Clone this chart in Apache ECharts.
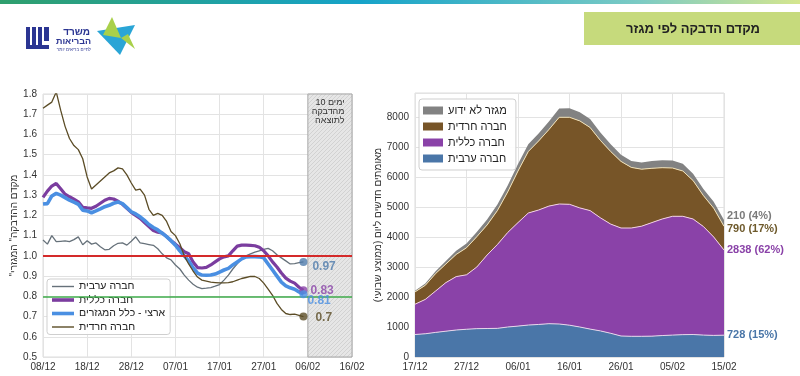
<!DOCTYPE html>
<html>
<head>
<meta charset="utf-8">
<script src="https://cdn.jsdelivr.net/npm/echarts@6/dist/echarts.min.js"></script>
<style>
  html, body { margin: 0; padding: 0; background: #fff; }
  #chart { width: 800px; height: 376px; }
</style>
</head>
<body>
<div id="chart"></div>
<script>
// ---- left chart: R by sector, one value per day from 08/12 ----
var leftTicks = ['08/12', '18/12', '28/12', '07/01', '17/01', '27/01', '06/02', '16/02']
var rArab = [1.078, 1.058, 1.10, 1.07, 1.072, 1.074, 1.07, 1.08, 1.094, 1.055,
  1.075, 1.058, 1.064, 1.045, 1.03, 1.032, 1.05, 1.062, 1.064, 1.053,
  1.072, 1.094, 1.064, 1.06, 1.056, 1.052, 1.035, 1.01, 0.99, 0.98,
  0.955, 0.935, 0.905, 0.88, 0.86, 0.845, 0.838, 0.84, 0.843, 0.85,
  0.858, 0.88, 0.905, 0.935, 0.96, 0.985, 1.0, 1.01, 1.018, 1.025,
  1.032, 1.037, 1.025, 1.005, 0.99, 0.975, 0.96, 0.962, 0.966, 0.97]
var rGeneral = [1.289, 1.32, 1.345, 1.358, 1.332, 1.305, 1.292, 1.28, 1.267, 1.24,
  1.237, 1.235, 1.245, 1.26, 1.275, 1.284, 1.281, 1.27, 1.255, 1.235,
  1.215, 1.20, 1.185, 1.165, 1.145, 1.125, 1.117, 1.113, 1.095, 1.075,
  1.058, 1.04, 1.02, 1.01, 0.97, 0.942, 0.94, 0.943, 0.955, 0.97,
  0.985, 0.995, 1.0, 1.025, 1.048, 1.053, 1.053, 1.052, 1.05, 1.042,
  1.025, 1.0, 0.97, 0.945, 0.915, 0.89, 0.875, 0.865, 0.845, 0.83]
var rNational = [1.256, 1.258, 1.296, 1.309, 1.30, 1.288, 1.275, 1.265, 1.255, 1.226,
  1.222, 1.213, 1.222, 1.232, 1.243, 1.25, 1.26, 1.266, 1.258, 1.238,
  1.218, 1.207, 1.193, 1.175, 1.155, 1.14, 1.128, 1.112, 1.095, 1.075,
  1.053, 1.025, 1.0, 0.975, 0.94, 0.915, 0.905, 0.904, 0.905, 0.91,
  0.92, 0.93, 0.938, 0.955, 0.97, 0.985, 0.995, 0.996, 0.996, 0.995,
  0.99, 0.96, 0.93, 0.9, 0.87, 0.852, 0.842, 0.835, 0.822, 0.81]
var rHaredi = [1.73, 1.745, 1.76, 1.81, 1.72, 1.64, 1.58, 1.545, 1.525, 1.48,
  1.39, 1.33, 1.35, 1.37, 1.39, 1.41, 1.42, 1.435, 1.43, 1.40,
  1.36, 1.325, 1.33, 1.30, 1.23, 1.20, 1.21, 1.20, 1.17, 1.12,
  1.10, 1.06, 1.0, 0.96, 0.925, 0.895, 0.88, 0.875, 0.87, 0.868,
  0.866, 0.866, 0.868, 0.872, 0.88, 0.888, 0.893, 0.898, 0.898, 0.888,
  0.865, 0.835, 0.805, 0.765, 0.735, 0.715, 0.71, 0.712, 0.706, 0.70]
var leftEndLabels = ['0.97', '0.83', '0.81', '0.7']

// ---- right chart: new cases per day (weekly avg), every 2 days from 17/12 ----
var rightDates = ['17/12', '19/12', '21/12', '23/12', '25/12', '27/12', '29/12', '31/12',
  '02/01', '04/01', '06/01', '08/01', '10/01', '12/01', '14/01', '16/01', '18/01',
  '20/01', '22/01', '24/01', '26/01', '28/01', '30/01', '01/02', '03/02', '05/02',
  '07/02', '09/02', '11/02', '13/02', '15/02']
var casesArab = [750, 775, 820, 860, 900, 925, 945, 950, 955, 1000, 1030, 1065, 1085, 1110,
  1100, 1060, 1000, 930, 870, 790, 700, 690, 690, 695, 715, 730, 745, 750, 730, 720, 728]
var casesGeneral = [1010, 1145, 1380, 1620, 1780, 1815, 2055, 2450, 2795, 3150, 3450, 3735,
  3815, 3920, 4000, 4030, 3970, 3950, 3770, 3640, 3600, 3610, 3670, 3785, 3885, 3960,
  3945, 3850, 3620, 3280, 2838]
var casesHaredi = [410, 470, 580, 620, 740, 900, 1010, 1000, 1130, 1350, 1720, 2050, 2300,
  2550, 2890, 2900, 2900, 2770, 2580, 2420, 2220, 2020, 1900, 1810, 1710, 1610, 1510,
  1280, 1030, 960, 790]
var casesUnknown = [40, 60, 80, 100, 120, 140, 160, 180, 200, 220, 230, 240, 250, 270, 290,
  300, 290, 280, 260, 240, 220, 210, 220, 240, 250, 250, 240, 230, 220, 215, 210]
var rightEndLabels = ['728 (15%)', '2838 (62%)', '790 (17%)', '210 (4%)']

var FONT = '"Liberation Sans", Arial, sans-serif'

// hatched fill for the "10 days" zone
var hatch = document.createElement('canvas')
hatch.width = 4
hatch.height = 4
var hc = hatch.getContext('2d')
hc.fillStyle = '#e6e6e6'
hc.fillRect(0, 0, 4, 4)
hc.strokeStyle = '#d2d2d2'
hc.lineWidth = 1
hc.beginPath()
hc.moveTo(0, 4)
hc.lineTo(4, 0)
hc.stroke()

function byDay(arr) {
  return arr.map(function (v, i) { return [i, v] })
}

function endDot(arr, color, text, offset) {
  return {
    type: 'scatter', xAxisIndex: 0, yAxisIndex: 0,
    symbolSize: 8, itemStyle: { color: color }, z: 5, silent: true,
    data: [[arr.length - 1, arr[arr.length - 1]]],
    label: {
      show: true, position: 'right', formatter: text, offset: offset,
      color: color, fontSize: 12, fontWeight: 'bold', fontFamily: FONT
    }
  }
}

var thinIcon = 'path://M0,0H22V1.4H0Z'
var thickIcon = 'path://M0,0H22V3.6H0Z'

var chart = echarts.init(document.getElementById('chart'))

var axisLabelStyle = { color: '#333', fontSize: 10, fontFamily: FONT }
var gridLine = { lineStyle: { color: '#e3e3e3', width: 1 } }

var option = {
  backgroundColor: '#fff',
  animation: false,
  textStyle: { fontFamily: FONT },
  graphic: [
    // top colour strip
    {
      type: 'rect', shape: { x: 0, y: 0, width: 800, height: 4 },
      style: {
        fill: new echarts.graphic.LinearGradient(0, 0, 1, 0, [
          { offset: 0, color: '#2f9f6d' },
          { offset: 0.45, color: '#16a3c9' },
          { offset: 0.8, color: '#7ccbc4' },
          { offset: 1, color: '#d5e68e' }
        ])
      }
    },
    // title box
    { type: 'rect', shape: { x: 584, y: 12, width: 216, height: 33 }, style: { fill: '#c6da7c' } },
    {
      type: 'text', x: 693, y: 29,
      style: {
        text: 'מקדם הדבקה לפי מגזר', fill: '#222', font: 'bold 13px ' + FONT,
        align: 'center', verticalAlign: 'middle'
      }
    },
    // logo
    { type: 'rect', shape: { x: 26, y: 27, width: 4, height: 22 }, style: { fill: '#2b3592' } },
    { type: 'rect', shape: { x: 32, y: 27, width: 4, height: 22 }, style: { fill: '#2b3592' } },
    { type: 'rect', shape: { x: 38, y: 27, width: 4, height: 22 }, style: { fill: '#2b3592' } },
    { type: 'rect', shape: { x: 44, y: 27, width: 5, height: 14 }, style: { fill: '#2b3592' } },
    { type: 'rect', shape: { x: 26, y: 45, width: 23, height: 4 }, style: { fill: '#2b3592' } },
    {
      type: 'text', x: 90, y: 32,
      style: { text: 'משרד', fill: '#2b3592', font: 'bold 10px ' + FONT, align: 'right', verticalAlign: 'middle' }
    },
    {
      type: 'text', x: 91, y: 42,
      style: { text: 'הבריאות', fill: '#2b3592', font: 'bold 9px ' + FONT, align: 'right', verticalAlign: 'middle' }
    },
    {
      type: 'text', x: 91, y: 50,
      style: { text: 'לחיים בריאים יותר', fill: '#2b3592', font: '4.5px ' + FONT, align: 'right', verticalAlign: 'middle' }
    },
    { type: 'polygon', shape: { points: [[97, 31], [135, 25], [120, 55]] }, style: { fill: '#2aa5d6' } },
    { type: 'polygon', shape: { points: [[112, 17], [121, 38], [103, 35]] }, style: { fill: '#a9d04a' } },
    { type: 'polygon', shape: { points: [[121, 38], [135, 49], [128, 34]] }, style: { fill: '#a9d04a' } }
  ],
  legend: [
    {
      left: 47, top: 279, orient: 'vertical', itemGap: 2.5, itemWidth: 22, itemHeight: 14,
      padding: [2, 5, 2, 5], backgroundColor: 'rgba(255,255,255,0.92)',
      borderColor: '#cfcfcf', borderWidth: 1, borderRadius: 3,
      textStyle: { color: '#222', fontSize: 10.5, fontFamily: FONT },
      data: [
        { name: 'חברה ערבית', icon: thinIcon },
        { name: 'חברה כללית', icon: thickIcon },
        { name: 'ארצי - כלל המגזרים', icon: thickIcon },
        { name: 'חברה חרדית', icon: thinIcon }
      ],
      selectedMode: false
    },
    {
      left: 419, top: 99, orient: 'vertical', itemGap: 5, itemWidth: 20, itemHeight: 8, icon: 'rect',
      padding: [6, 6, 6, 4], backgroundColor: 'rgba(255,255,255,0.92)',
      borderColor: '#cfcfcf', borderWidth: 1, borderRadius: 3,
      textStyle: { color: '#222', fontSize: 11, fontFamily: FONT },
      data: ['מגזר לא ידוע ', 'חברה חרדית ', 'חברה כללית ', 'חברה ערבית '],
      selectedMode: false
    }
  ],
  grid: [
    { left: 43, right: 448, top: 94, bottom: 19, show: true, borderColor: '#dcdcdc', borderWidth: 1, backgroundColor: 'transparent' },
    { left: 415, right: 76, top: 93, bottom: 19, show: true, borderColor: '#dcdcdc', borderWidth: 1, backgroundColor: 'transparent' }
  ],
  xAxis: [
    {
      type: 'value', gridIndex: 0, min: 0, max: 70, interval: 10,
      axisLine: { show: false }, axisTick: { show: false },
      axisLabel: Object.assign({}, axisLabelStyle, {
        margin: 5,
        formatter: function (v) { return leftTicks[Math.round(v / 10)] }
      }),
      splitLine: gridLine
    },
    {
      type: 'category', gridIndex: 1, data: rightDates, boundaryGap: false,
      axisLine: { show: false }, axisTick: { show: false },
      axisLabel: Object.assign({}, axisLabelStyle, { interval: 4, margin: 5 }),
      splitLine: { show: true, interval: 4, lineStyle: { color: '#e3e3e3' } }
    }
  ],
  yAxis: [
    {
      type: 'value', gridIndex: 0, min: 0.5, max: 1.8, interval: 0.1,
      axisLine: { show: false }, axisTick: { show: false },
      axisLabel: Object.assign({}, axisLabelStyle, {
        margin: 6,
        formatter: function (v) { return v.toFixed(1) }
      }),
      splitLine: gridLine,
      name: '"מקדם ההדבקה" המגזרי', nameLocation: 'middle', nameGap: 21,
      nameTextStyle: { color: '#333', fontSize: 10, fontFamily: FONT }
    },
    {
      type: 'value', gridIndex: 1, min: 0, max: 8800, interval: 1000,
      axisLine: { show: false }, axisTick: { show: false },
      axisLabel: Object.assign({}, axisLabelStyle, {
        margin: 6, showMaxLabel: false,
        formatter: function (v) { return String(v) }
      }),
      splitLine: gridLine,
      name: 'מאומתים חדשים ליום (ממוצע שבועי)', nameLocation: 'middle', nameGap: 28,
      nameTextStyle: { color: '#333', fontSize: 10, fontFamily: FONT }
    }
  ],
  series: [
    {
      name: 'חברה ערבית', type: 'line', xAxisIndex: 0, yAxisIndex: 0,
      data: byDay(rArab), symbol: 'none', color: '#66717a',
      lineStyle: { width: 1.3, color: '#66717a' }, z: 3,
      markArea: {
        silent: true,
        itemStyle: { color: { image: hatch, repeat: 'repeat' }, borderColor: '#a8a8a8', borderWidth: 1 },
        label: {
          show: true, position: 'insideTopRight', offset: [-3, 0],
          formatter: '10 ימים\nמהדבקה\nלתוצאה', align: 'right',
          color: '#333', fontSize: 9, lineHeight: 9, fontFamily: FONT
        },
        data: [[{ xAxis: 60 }, { xAxis: 70 }]]
      },
      markLine: {
        silent: true, symbol: 'none', label: { show: false },
        data: [
          { yAxis: 1.0, lineStyle: { color: '#d42a2a', width: 2, type: 'solid' } },
          { yAxis: 0.8, lineStyle: { color: '#3caa48', width: 1.5, type: 'solid' } }
        ]
      }
    },
    {
      name: 'חברה כללית', type: 'line', xAxisIndex: 0, yAxisIndex: 0,
      data: byDay(rGeneral), symbol: 'none', color: '#7b3d9f',
      lineStyle: { width: 3.2, color: '#7b3d9f' }, z: 3
    },
    {
      name: 'ארצי - כלל המגזרים', type: 'line', xAxisIndex: 0, yAxisIndex: 0,
      data: byDay(rNational), symbol: 'none', color: '#4a8fe2',
      lineStyle: { width: 3.6, color: '#4a8fe2' }, z: 3
    },
    {
      name: 'חברה חרדית', type: 'line', xAxisIndex: 0, yAxisIndex: 0,
      data: byDay(rHaredi), symbol: 'none', color: '#5b4c26',
      lineStyle: { width: 1.3, color: '#5b4c26' }, z: 3
    },
    endDot(rArab, '#4e7bab', leftEndLabels[0], [0, 5]),
    endDot(rGeneral, '#8b45a9', leftEndLabels[1], [-2, 0]),
    endDot(rNational, '#4a8fe2', leftEndLabels[2], [-5, 6]),
    endDot(rHaredi, '#5b4c26', leftEndLabels[3], [3, 1]),

    // right: stacked areas
    {
      name: 'חברה ערבית ', type: 'line', xAxisIndex: 1, yAxisIndex: 1, stack: 'cases',
      data: casesArab, symbol: 'none', color: '#4a76a8',
      lineStyle: { width: 1, color: '#e6d6ea' }, areaStyle: { color: '#4a76a8', opacity: 1 },
      endLabel: { show: true, formatter: rightEndLabels[0], color: '#4a76a8', fontSize: 11, fontWeight: 'bold', fontFamily: FONT, distance: 3 }
    },
    {
      name: 'חברה כללית ', type: 'line', xAxisIndex: 1, yAxisIndex: 1, stack: 'cases',
      data: casesGeneral, symbol: 'none', color: '#8a42a8',
      lineStyle: { width: 1, color: '#f2cfe4' }, areaStyle: { color: '#8a42a8', opacity: 1 },
      endLabel: { show: true, formatter: rightEndLabels[1], color: '#8a42a8', fontSize: 11, fontWeight: 'bold', fontFamily: FONT, distance: 3 }
    },
    {
      name: 'חברה חרדית ', type: 'line', xAxisIndex: 1, yAxisIndex: 1, stack: 'cases',
      data: casesHaredi, symbol: 'none', color: '#775528',
      lineStyle: { width: 1, color: '#f1e0b4' }, areaStyle: { color: '#775528', opacity: 1 },
      endLabel: { show: true, formatter: rightEndLabels[2], color: '#6e5a2c', fontSize: 11, fontWeight: 'bold', fontFamily: FONT, distance: 3, offset: [0, 3] }
    },
    {
      name: 'מגזר לא ידוע ', type: 'line', xAxisIndex: 1, yAxisIndex: 1, stack: 'cases',
      data: casesUnknown, symbol: 'none', color: '#828282',
      lineStyle: { width: 0 }, areaStyle: { color: '#828282', opacity: 1 },
      endLabel: { show: true, formatter: rightEndLabels[3], color: '#7a7a7a', fontSize: 11, fontWeight: 'bold', fontFamily: FONT, distance: 3, offset: [0, -4] }
    }
  ]
}

chart.setOption(option)
</script>
</body>
</html>
